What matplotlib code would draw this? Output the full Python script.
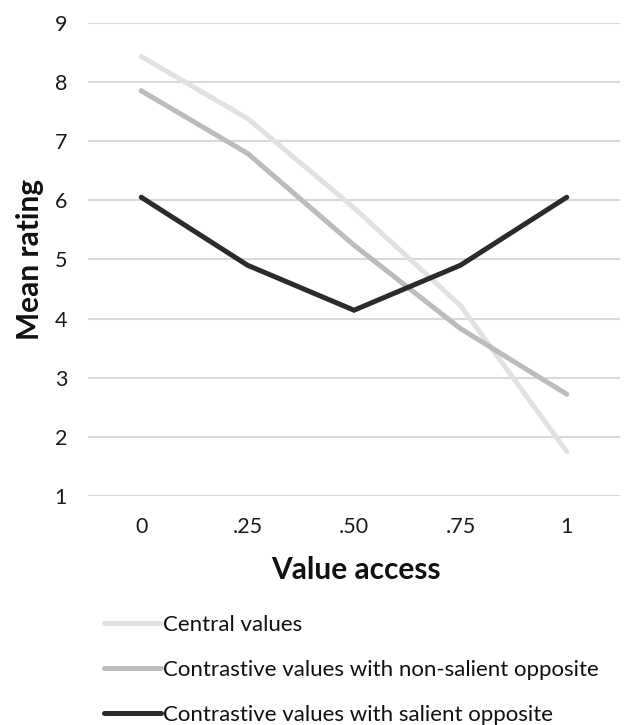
import matplotlib
matplotlib.use("Agg")
import matplotlib.pyplot as plt
from matplotlib.lines import Line2D

plt.rcParams['font.family'] = ['Lato', 'DejaVu Sans']

categories = ["0", ".25", ".50", ".75", "1"]
central = [8.43, 7.38, 5.87, 4.22, 1.75]
non_salient = [7.85, 6.79, 5.24, 3.83, 2.72]
salient = [6.05, 4.90, 4.14, 4.90, 6.05]
series_names = ["Central values",
                "Contrastive values with non-salient opposite",
                "Contrastive values with salient opposite"]
colors = ["#e2e2e2", "#bcbcbc", "#2b2b2b"]
y_ticks = [1, 2, 3, 4, 5, 6, 7, 8, 9]

W, H = 624, 725
fig = plt.figure(figsize=(W / 100, H / 100), dpi=100)
ax = fig.add_axes([88 / W, 1 - 496 / H, (620 - 88) / W, (496 - 22.7) / H])

x = list(range(len(categories)))
for vals, c, name in zip([central, non_salient, salient], colors, series_names):
    ax.plot(x, vals, color=c, lw=3.6, solid_capstyle='round',
            solid_joinstyle='miter', label=name, zorder=3)

ax.set_xlim(-0.5, len(categories) - 0.5)
ax.set_ylim(1, 9)
ax.set_yticks(y_ticks)
ax.set_xticks(x)
ax.set_xticklabels(categories)
ax.grid(axis='y', color='#d9d9d9', lw=1.5, zorder=0)
ax.set_axisbelow(True)
for s in ax.spines.values():
    s.set_visible(False)
ax.tick_params(axis='y', length=0, pad=15, labelsize=15.5, labelcolor='#1a1a1a')
ax.tick_params(axis='x', length=0, pad=15, labelsize=15.5, labelcolor='#1a1a1a')

fig.text(30 / W, 1 - 259 / H, "Mean rating", rotation=90, ha='center', va='center',
         fontsize=21.5, fontweight='bold', color='#111111')
fig.text(356 / W, 1 - 570 / H, "Value access", ha='center', va='center',
         fontsize=21.5, fontweight='bold', color='#111111')

leg_handles = [Line2D([0], [0], color=c, lw=3.6, solid_capstyle='round') for c in colors]
fig.legend(leg_handles, series_names, loc='upper left',
           bbox_to_anchor=(93 / W, 1 - 604 / H), frameon=False,
           fontsize=16, handlelength=2.55, handletextpad=0.1,
           labelspacing=1.12, borderpad=0, labelcolor='#111111')

fig.savefig("out.png", dpi=100)
